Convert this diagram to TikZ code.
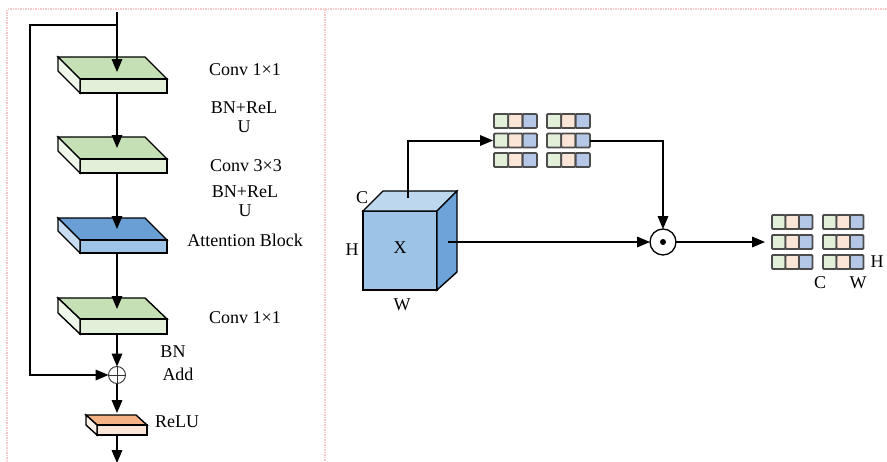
\documentclass[tikz,border=0pt]{standalone}
\usepackage{fontspec}
\setmainfont{Liberation Serif}
\usepackage{tikz}
\usetikzlibrary{shapes,arrows}
\definecolor{greenTop}{RGB}{197,224,180}
\definecolor{greenFront}{RGB}{226,240,217}
\definecolor{greenSide}{RGB}{240,247,235}
\definecolor{blueTop}{RGB}{106,159,214}
\definecolor{blueFront}{RGB}{157,195,230}
\definecolor{blueSide}{RGB}{200,221,241}
\definecolor{orangeTop}{RGB}{244,177,131}
\definecolor{orangeFront}{RGB}{251,229,214}
\definecolor{orangeSide}{RGB}{253,240,230}
\definecolor{cubeFront}{RGB}{157,195,230}
\definecolor{cubeTop}{RGB}{189,215,238}
\definecolor{cubeSide}{RGB}{108,163,216}
\definecolor{cellGreen}{RGB}{226,240,217}
\definecolor{cellOrange}{RGB}{251,229,214}
\definecolor{cellBlue}{RGB}{180,199,231}
\definecolor{gridPink}{RGB}{248,200,200}

% slab: back-left x, back y, width, depth x, depth y, thickness, colour
\newcommand{\slab}[7]{%
  \filldraw[slab line, fill=#7Top] (#1,#2) -- ({#1+#3},#2) -- ({#1+#3+#4},{#2+#5}) -- ({#1+#4},{#2+#5}) -- cycle;
  \filldraw[slab line, fill=#7Front] ({#1+#4},{#2+#5}) rectangle ({#1+#3+#4},{#2+#5+#6});
  \filldraw[slab line, fill=#7Side] (#1,#2) -- ({#1+#4},{#2+#5}) -- ({#1+#4},{#2+#5+#6}) -- (#1,{#2+#6}) -- cycle;
}
% three cells in a row: x, y, cell width
\newcommand{\cellrow}[3]{%
  \filldraw[cell, fill=cellGreen] (#1,#2) rectangle ++(#3,14);
  \filldraw[cell, fill=cellOrange] ({#1+#3},#2) rectangle ++(#3,14);
  \filldraw[cell, fill=cellBlue] ({#1+2*#3},#2) rectangle ++(#3,14);
}

\begin{document}
\begin{tikzpicture}[x=1pt, y=-1pt]%
  \tikzset{normal arrow/.style={draw,-triangle 45,line width=2pt,black}}
  \tikzset{slab line/.style={draw=black,line width=1.4pt,line join=miter}}
  \tikzset{cell/.style={draw=black!70,line width=1.8pt,rounded corners=1pt}}
  \tikzstyle{every node}=[font=\fontsize{18}{19}\selectfont, inner sep=0pt, outer sep=0pt]

  \useasboundingbox (0,0) rectangle (887,461);
  \draw[gridPink, densely dotted, line width=1.5pt] (7,461) -- (7,9) -- (887,9) (325,9) -- (325,461);

  % left: residual block
  \slab{58}{57}{87}{22}{22}{14}{green}
  \slab{58}{137}{87}{22}{22}{14}{green}
  \slab{58}{218}{87}{22}{22}{13}{blue}
  \slab{58}{298}{87}{22}{21}{15}{green}
  \slab{86}{415}{50}{11}{10}{10}{orange}

  \coordinate (in) at (117,12);
  \coordinate (split) at (117,25);
  \coordinate (skip) at (30,25);
  \coordinate (c1in) at (117,72);
  \coordinate (c1out) at (117,93);
  \coordinate (c2in) at (117,148);
  \coordinate (c2out) at (117,173);
  \coordinate (attin) at (117,229);
  \coordinate (attout) at (117,253);
  \coordinate (c3in) at (117,309);
  \coordinate (c3out) at (117,334);
  \coordinate (reluin) at (117,413);
  \coordinate (reluout) at (117,435);
  \coordinate (out) at (117,463);
  \node[circle, draw=black!80, line width=0.9pt, minimum size=17pt] at (117,375) (add) {};
  \draw[black!80, line width=0.9pt] (add.north) -- (add.south) (add.west) -- (add.east);

  \path[normal arrow] (in) -- (c1in);
  \path[normal arrow] (c1out) -- (c2in);
  \path[normal arrow] (c2out) -- (attin);
  \path[normal arrow] (attout) -- (c3in);
  \path[normal arrow] (c3out) -- (add);
  \path[normal arrow] (add) -- (reluin);
  \path[normal arrow] (reluout) -- (out);
  \path[normal arrow] (split) -- (skip) |- (add);

  \node at (245,70) (conv1) {Conv 1×1};
  \node[align=center] at (244,117) (bnrelu1) {BN+ReL\\U};
  \node at (246,166) (conv3) {Conv 3×3};
  \node[align=center] at (245,201) (bnrelu2) {BN+ReL\\U};
  \node at (245,240) (attn) {Attention Block};
  \node at (245,318) (conv1b) {Conv 1×1};
  \node at (173,352) (bn) {BN};
  \node at (178,374) (addlbl) {Add};
  \node at (177,422) (relu) {ReLU};

  % right: attention block
  \filldraw[slab line, fill=cubeFront] (363,211) rectangle (437,290);
  \filldraw[slab line, fill=cubeTop] (363,211) -- (383,191) -- (457,191) -- (437,211) -- cycle;
  \filldraw[slab line, fill=cubeSide] (437,211) -- (457,191) -- (457,272) -- (437,290) -- cycle;
  \node at (400,248) (x) {X};
  \node at (362,198) (cubeC) {C};
  \node at (352,250) (cubeH) {H};
  \node at (402,305) (cubeW) {W};
  \coordinate (cubetop) at (408,198);
  \coordinate (cuberight) at (448,242);

  \foreach \row in {0,1,2} {
    \cellrow{494}{114+19.5*\row}{14.3}
    \cellrow{547}{114+19.5*\row}{14.3}
    \cellrow{772}{215+20*\row}{13.5}
    \cellrow{823}{215+20*\row}{13.5}
  }
  \coordinate (g1in) at (493,140.5);
  \coordinate (g1out) at (590,140.5);
  \coordinate (g2in) at (765,242);

  \node[circle, draw=black, line width=1.3pt, minimum size=26pt] at (663,242) (dot) {};
  \fill (dot.center) circle (3pt);

  \path[normal arrow] (cubetop) |- (g1in);
  \path[normal arrow] (g1out) -| (dot);
  \path[normal arrow] (cuberight) -- (dot);
  \path[normal arrow] (dot) -- (g2in);

  \node at (877,262) (outH) {H};
  \node at (820,283) (outC) {C};
  \node at (858,283) (outW) {W};
\end{tikzpicture}
\end{document}
